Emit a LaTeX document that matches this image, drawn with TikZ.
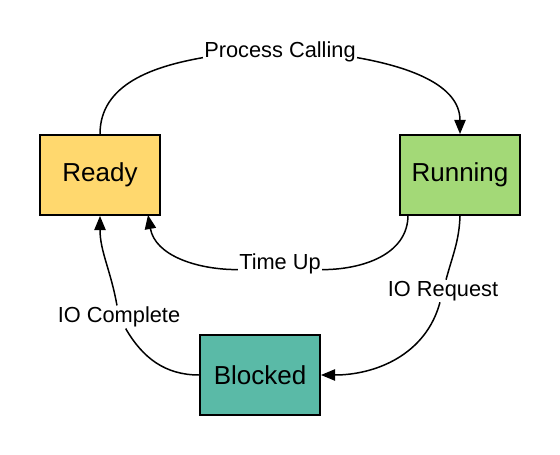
\documentclass[tikz,border=0pt]{standalone}
\usepackage{fontspec}
\setmainfont{Liberation Sans}
\usetikzlibrary{arrows.meta}
\definecolor{readyfill}{HTML}{FFD86E}
\definecolor{runfill}{HTML}{A3D977}
\definecolor{blockfill}{HTML}{5ABAA7}
\begin{document}
\begin{tikzpicture}[x=0.02cm, y=-0.02cm,
  state/.style={draw, line width=1.1pt, minimum width=2.4cm, minimum height=1.6cm,
    inner sep=0pt, font=\fontsize{14.8}{17}\selectfont},
  lbl/.style={fill=white, inner sep=0.6pt, font=\fontsize{12.4}{14}\selectfont},
  arr/.style={line width=0.85pt, -{Triangle[length=8pt,width=6.4pt]}}]
  \useasboundingbox (0,0) rectangle (560,455);

  \node[state, fill=readyfill] (ready) at (100,175) {Ready};
  \node[state, fill=runfill] (running) at (460,175) {Running};
  \node[state, fill=blockfill] (blocked) at (260,375) {Blocked};

  \node[lbl] (calling) at (280,52) {Process Calling};
  \node[lbl] (timeup) at (280,264) {Time Up};
  \node[lbl] (ioreq) at (443,291) {IO Request};
  \node[lbl] (iocomp) at (119,317) {IO Complete};

  \coordinate (runout) at (408,215);
  \coordinate (readyin) at (148,215);

  \draw[arr] (ready.north) to[out=90, in=190] (calling.base west)
    (calling.base east) to[out=-10, in=90] (running.north);
  \draw[arr] (runout) to[out=-90, in=0] (timeup.base east)
    (timeup.base west) to[out=180, in=-80] (readyin);
  \draw[arr] (running.south) to[out=-92, in=75] (ioreq) to[out=-105, in=0] (blocked.east);
  \draw[arr] (blocked.west) to[out=180, in=-60] (iocomp) to[out=100, in=-90] (ready.south);
\end{tikzpicture}
\end{document}
